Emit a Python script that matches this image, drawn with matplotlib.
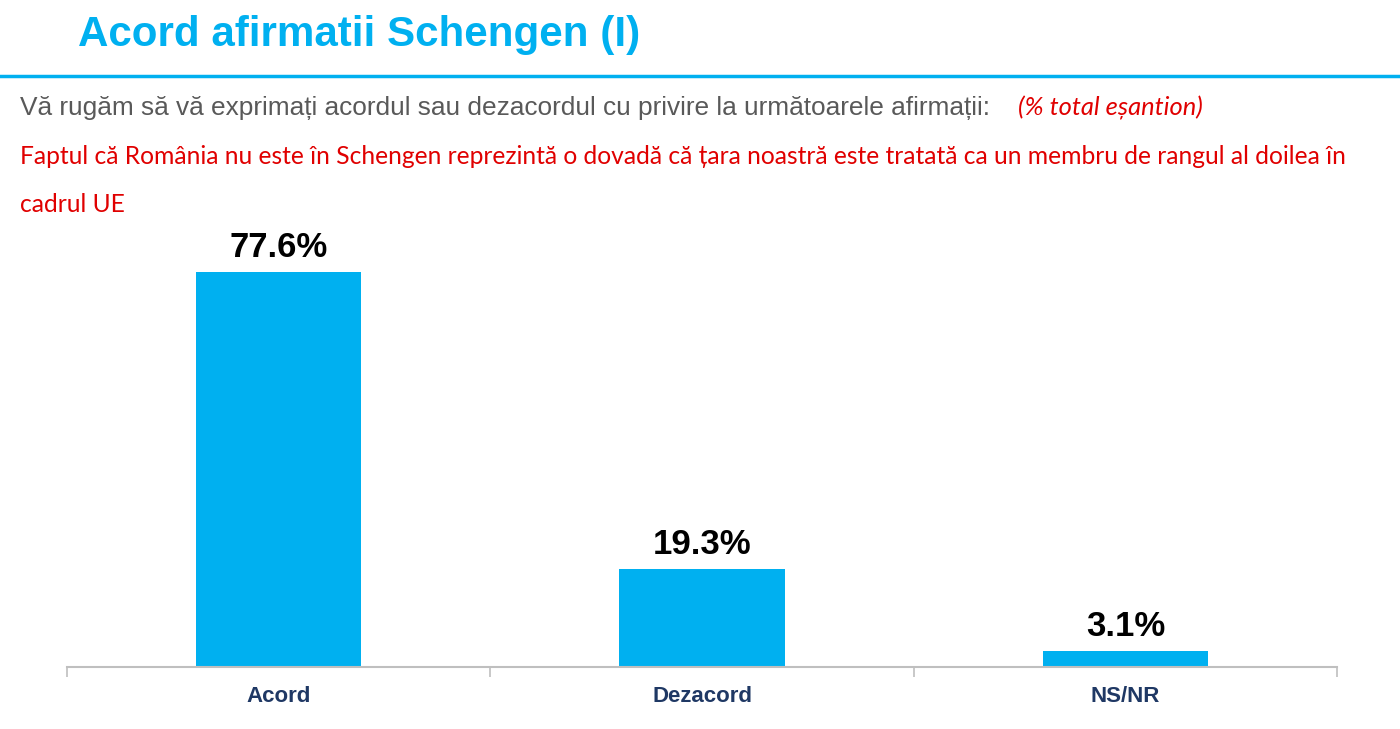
import numpy as np
import matplotlib
matplotlib.use("Agg")
import matplotlib.pyplot as plt

categories = ["Acord", "Dezacord", "NS/NR"]
values = [77.6, 19.3, 3.1]
value_labels = ["77.6%", "19.3%", "3.1%"]

title = "Acord afirmatii Schengen (I)"
question = "Vă rugăm să vă exprimați acordul sau dezacordul cu privire la următoarele afirmații:"
base_note = "(% total eșantion)"
statement = ["Faptul că România nu este în Schengen reprezintă o dovadă că țara noastră este tratată ca un membru de rangul al doilea în",
             "cadrul UE"]

BLUE = "#00B0F0"
RED = "#E00000"
NAVY = "#1F3864"
GREY = "#595959"

W, H = 1400, 729
fig = plt.figure(figsize=(W / 100, H / 100), dpi=100)
fig.patch.set_facecolor("white")

# header
fig.text(78 / W, 1 - 35 / H, title, fontsize=30.3, fontweight="bold", color=BLUE,
         family="Liberation Sans", ha="left", va="center")
fig.add_artist(plt.Line2D([0, 1], [1 - 76 / H, 1 - 76 / H], color=BLUE, lw=2.5))

fig.text(20 / W, 1 - 108 / H, question, fontsize=18.9, color=GREY,
         family="Liberation Sans", ha="left", va="center")
fig.text(1018 / W, 1 - 108 / H, base_note, fontsize=18.4, color=RED, style="italic",
         family="Lato", ha="left", va="center")
fig.text(20 / W, 1 - 157 / H, statement[0], fontsize=17.7, color=RED,
         family="Lato", ha="left", va="center")
fig.text(20 / W, 1 - 205 / H, statement[1], fontsize=17.7, color=RED,
         family="Lato", ha="left", va="center")

# bars
ax = fig.add_axes([67 / W, (H - 667) / H, 1270 / W, 437 / H])
x = np.arange(len(categories))
bars = ax.bar(x, values, width=0.39, color=BLUE, zorder=2)
for b, lab in zip(bars, value_labels):
    ax.text(b.get_x() + b.get_width() / 2, b.get_height() + 1.6, lab,
            ha="center", va="bottom", fontsize=25, fontweight="bold",
            color="black", family="Liberation Sans")

ax.set_xlim(-0.5, len(categories) - 0.5)
ax.set_ylim(0, 85.85)
for s in ["top", "right", "left"]:
    ax.spines[s].set_visible(False)
ax.spines["bottom"].set_color("#BFBFBF")
ax.spines["bottom"].set_linewidth(1.5)
ax.set_yticks([])

ax.set_xticks(np.arange(-0.5, len(categories)), labels=[])
ax.tick_params(axis="x", which="major", length=7, color="#BFBFBF", width=1.2)
ax.set_xticks(x, labels=categories, minor=True)
ax.tick_params(axis="x", which="minor", length=0, pad=14)
for t in ax.get_xticklabels(minor=True):
    t.set_fontsize(16)
    t.set_fontweight("bold")
    t.set_color(NAVY)
    t.set_family("Liberation Sans")

fig.savefig("out.png", dpi=100, facecolor="white")
